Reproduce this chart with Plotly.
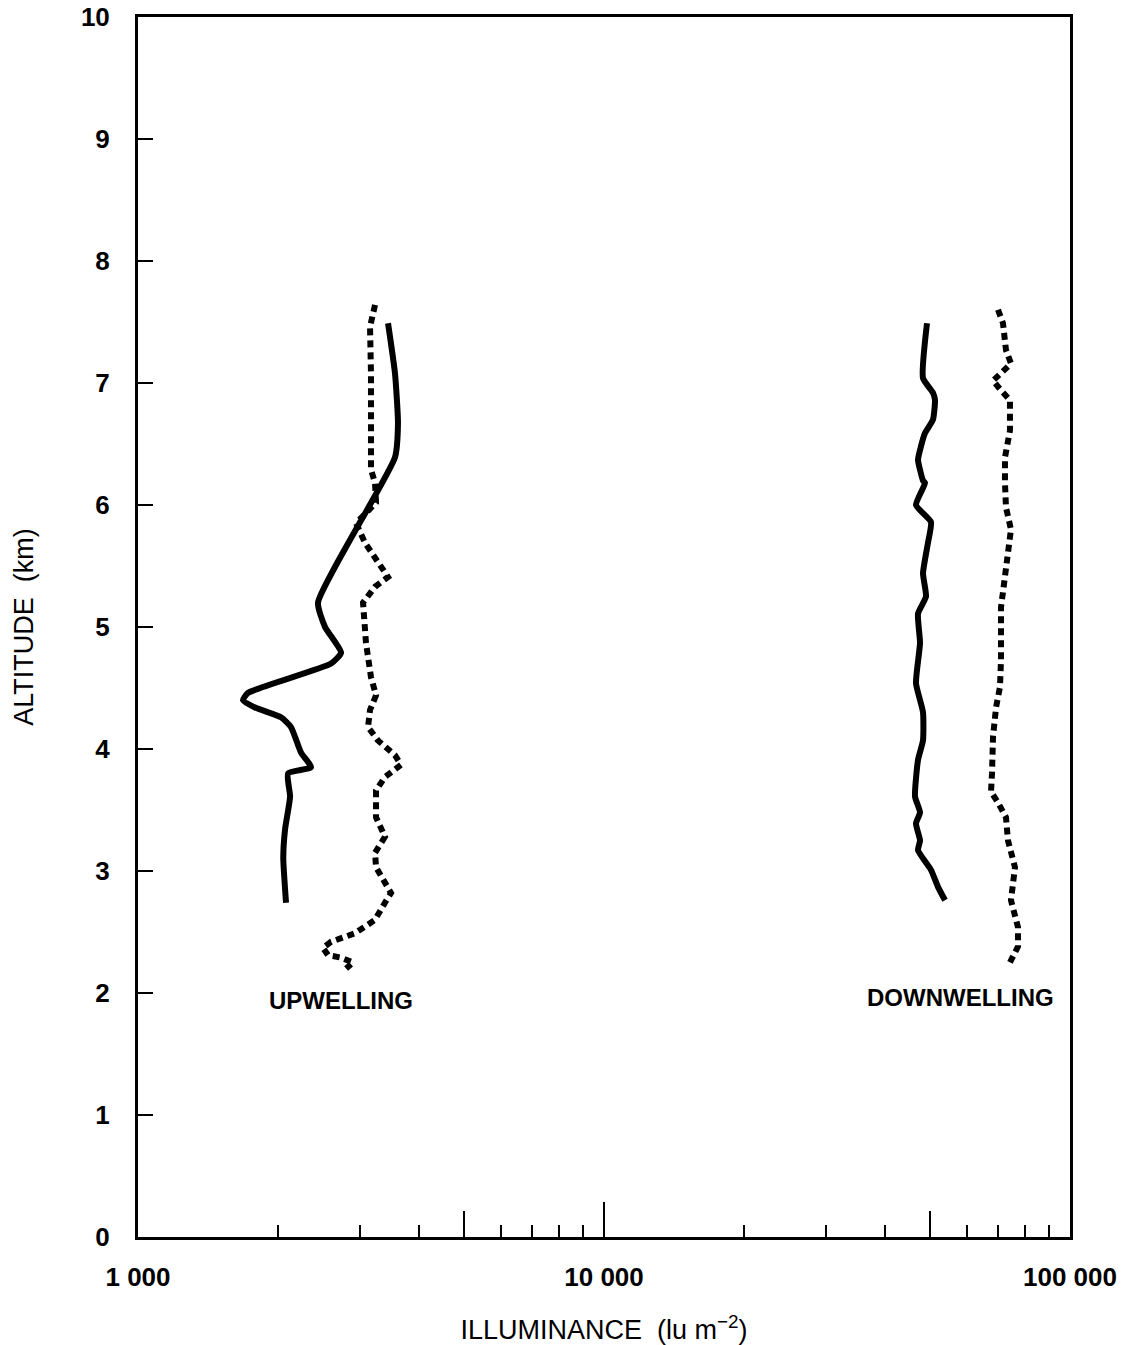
import plotly.graph_objects as go

# Upwelling, solid curve
up_solid_alt = [7.49, 7.08, 6.67, 6.39, 5.20, 5.00, 4.79, 4.70, 4.46, 4.40, 4.34, 4.26,
                4.18, 3.97, 3.85, 3.80, 3.61, 3.34, 3.11, 2.74]
up_solid_lux = [3440, 3560, 3613, 3560, 2434, 2520, 2727, 2596, 1722, 1680, 1783, 2027,
                2130, 2238, 2351, 2099, 2120, 2068, 2050, 2078]

# Upwelling, dotted curve
up_dot_alt = [7.64, 7.46, 7.08, 6.67, 6.29, 6.18, 6.02, 5.85, 5.69, 5.41, 5.33, 5.20,
              4.87, 4.59, 4.44, 4.32, 4.18, 4.07, 3.95, 3.87, 3.77, 3.66, 3.44, 3.28,
              3.15, 3.03, 2.82, 2.74, 2.60, 2.49, 2.42, 2.37, 2.31, 2.29, 2.25, 2.20]
up_dot_lux = [3226, 3147, 3162, 3162, 3162, 3226, 3242, 2937, 3070, 3439, 3226, 3040,
              3085, 3162, 3242, 3147, 3116, 3273, 3560, 3667, 3388, 3242, 3242, 3388,
              3226, 3242, 3491, 3388, 3226, 2922, 2596, 2495, 2557, 2727, 2893, 2796]

# Downwelling, solid curve
down_solid_alt = [7.49, 7.04, 6.92, 6.86, 6.70, 6.59, 6.45, 6.37, 6.20, 6.18, 6.00, 5.86,
                  5.69, 5.44, 5.25, 5.11, 4.87, 4.54, 4.30, 4.07, 3.91, 3.61, 3.48, 3.39,
                  3.25, 3.17, 3.01, 2.87, 2.76]
down_solid_lux = [49330, 48370, 50810, 51320, 50810, 48850, 47660, 47190, 48370, 48850, 46720, 50310,
                  49570, 48370, 49090, 47190, 47660, 46720, 48370, 48370, 47190, 46500, 47660, 46720,
                  47660, 47190, 50310, 52080, 53930]

# Downwelling, dotted curve
down_dot_alt = [7.60, 7.49, 7.27, 7.16, 7.08, 7.02, 6.94, 6.86, 6.61, 6.39, 6.18, 5.98,
                5.80, 5.44, 5.16, 4.73, 4.51, 4.34, 4.10, 3.80, 3.65, 3.56, 3.44, 3.25,
                3.03, 2.76, 2.54, 2.38, 2.25]
down_dot_lux = [70070, 71810, 72880, 74700, 71110, 68360, 71110, 74330, 74330, 72520, 72520, 72880,
                74700, 72880, 71110, 71110, 70760, 69380, 68360, 68020, 67690, 70070, 72880, 73610,
                76200, 74700, 77330, 77330, 74330]

x_major_vals = [1000, 10000, 100000]
x_major_text = ["1 000", "10 000", "100 000"]
x_minor_vals = [2000, 3000, 4000, 6000, 7000, 8000, 9000,
                20000, 30000, 40000, 60000, 70000, 80000, 90000]
x_mid_vals = [5000, 50000]
y_tick_vals = list(range(0, 11))

FONT = "Liberation Sans, Arial, sans-serif"

fig = go.Figure()
solid = dict(color="black", width=6, shape="spline", smoothing=0.5)
dotted = dict(color="black", width=6, dash="7px,5px")

fig.add_trace(go.Scatter(x=up_solid_lux, y=up_solid_alt, mode="lines", line=solid, showlegend=False))
fig.add_trace(go.Scatter(x=up_dot_lux, y=up_dot_alt, mode="lines", line=dotted, showlegend=False))
fig.add_trace(go.Scatter(x=down_solid_lux, y=down_solid_alt, mode="lines", line=solid, showlegend=False))
fig.add_trace(go.Scatter(x=down_dot_lux, y=down_dot_alt, mode="lines", line=dotted, showlegend=False))
# invisible helper trace for the secondary tick axis
fig.add_trace(go.Scatter(x=[1000], y=[0], xaxis="x2", mode="markers",
                         marker=dict(opacity=0), hoverinfo="skip", showlegend=False))

fig.add_annotation(x=3.4357, y=1.94, xref="x", yref="y", text="<b>UPWELLING</b>",
                   showarrow=False, font=dict(family=FONT, size=24, color="black"))
fig.add_annotation(x=4.764, y=1.96, xref="x", yref="y", text="<b>DOWNWELLING</b>",
                   showarrow=False, font=dict(family=FONT, size=24, color="black"))

fig.update_layout(
    width=1131, height=1345,
    margin=dict(l=138, r=61, t=17, b=108),
    paper_bgcolor="white", plot_bgcolor="white",
    xaxis=dict(
        type="log", range=[3, 5], automargin=False,
        showline=True, linecolor="black", linewidth=3, mirror=True,
        showgrid=False, zeroline=False,
        tickmode="array", tickvals=x_major_vals, ticktext=x_major_text,
        ticks="inside", ticklen=35, tickwidth=2, tickcolor="black",
        ticklabelstandoff=15,
        tickfont=dict(family=FONT, size=26, color="black", weight="bold"),
        minor=dict(tickmode="array", tickvals=x_minor_vals, ticks="inside",
                   ticklen=12, tickwidth=2, tickcolor="black", showgrid=False),
        title=dict(text="ILLUMINANCE  (lu m<sup>−2</sup>)", standoff=30,
                   font=dict(family=FONT, size=27, color="black")),
    ),
    xaxis2=dict(
        type="log", range=[3, 5], overlaying="x", side="bottom", automargin=False,
        showline=False, showgrid=False, zeroline=False,
        tickmode="array", tickvals=x_mid_vals,
        ticks="inside", ticklen=26, tickwidth=2, tickcolor="black",
        showticklabels=False,
    ),
    yaxis=dict(
        range=[0, 10], automargin=False,
        showline=True, linecolor="black", linewidth=3, mirror=True,
        showgrid=False, zeroline=False,
        tickmode="array", tickvals=y_tick_vals,
        ticks="inside", ticklen=15, tickwidth=2, tickcolor="black",
        ticklabelstandoff=20,
        tickfont=dict(family=FONT, size=26, color="black", weight="bold"),
        title=dict(text="ALTITUDE  (km)", standoff=40,
                   font=dict(family=FONT, size=27, color="black")),
    ),
)

fig.write_html("out.html")
